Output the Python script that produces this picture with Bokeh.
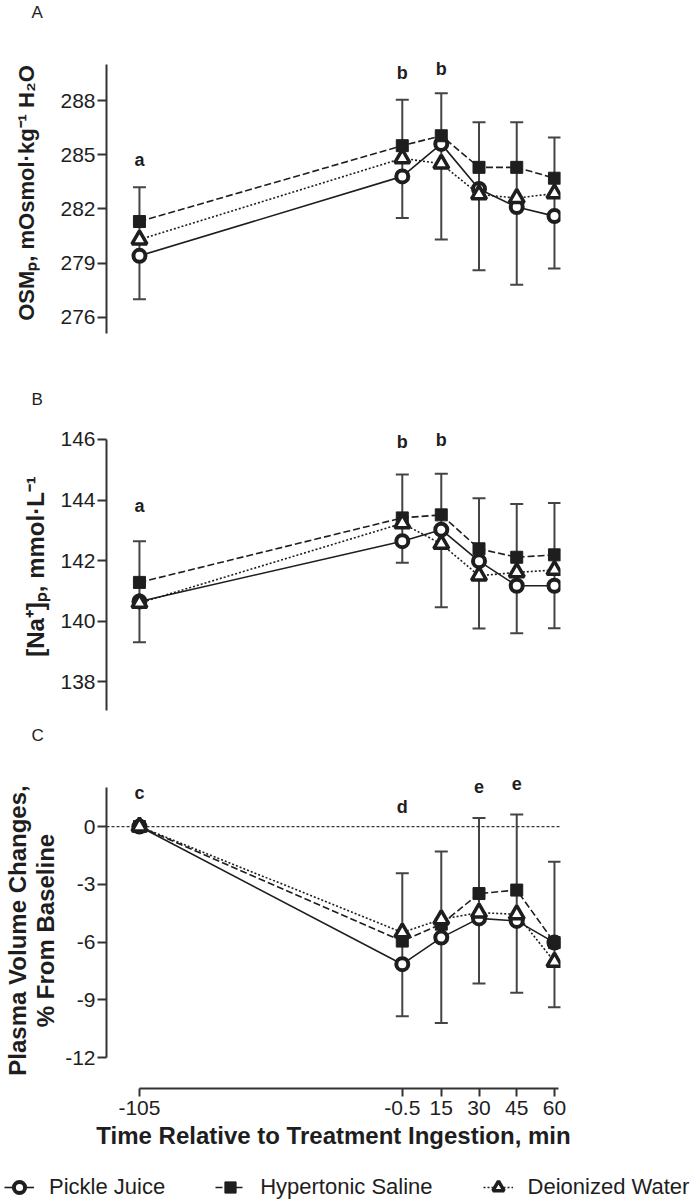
from bokeh.plotting import figure
from bokeh.models import (Range1d, ColumnDataSource, Whisker, TeeHead, LabelSet, Span,
                          FixedTicker, Legend, LegendItem, Title)
from bokeh.core.properties import value
from bokeh.layouts import column
from bokeh.embed import file_html
from bokeh.resources import INLINE

# ---------------- data ----------------
time_min = [-105, -0.5, 15, 30, 45, 60]
time_labels = ["-105", "-0.5", "15", "30", "45", "60"]
series_names = ["Pickle Juice", "Hypertonic Saline", "Deionized Water"]

# Panel A: plasma osmolality (mOsmol/kg H2O)
osm_pickle = [279.4, 283.8, 285.6, 283.1, 282.1, 281.6]
osm_saline = [281.3, 285.5, 286.05, 284.3, 284.3, 283.7]
osm_water = [280.3, 284.8, 284.5, 282.8, 282.6, 282.85]
osm_err_hi = [283.2, 288.05, 288.4, 286.8, 286.8, 285.95]
osm_err_lo = [277.0, 281.5, 280.3, 278.6, 277.8, 278.7]
osm_ticks = [276, 279, 282, 285, 288]
osm_letters = ["a", "b", "b"]
osm_letter_t = [-105, -0.5, 15]
osm_letter_y = [284.7, 289.55, 289.75]

# Panel B: plasma sodium (mmol/L)
na_pickle = [140.65, 142.64, 143.02, 141.98, 141.17, 141.17]
na_saline = [141.28, 143.41, 143.51, 142.39, 142.11, 142.19]
na_water = [140.6, 143.23, 142.55, 141.5, 141.61, 141.69]
na_err_hi = [142.64, 144.84, 144.87, 144.06, 143.87, 143.9]
na_err_lo = [139.3, 141.93, 140.46, 139.76, 139.6, 139.77]
na_ticks = [138, 140, 142, 144, 146]
na_letters = ["a", "b", "b"]
na_letter_t = [-105, -0.5, 15]
na_letter_y = [143.8, 145.9, 145.97]

# Panel C: plasma volume change (% from baseline)
pv_pickle = [0, -7.15, -5.77, -4.77, -4.9, -6.03]
pv_saline = [0, -5.95, -5.07, -3.48, -3.3, -6.03]
pv_water = [0, -5.5, -4.82, -4.47, -4.56, -7.03]
pv_err_t = [-0.5, 15, 30, 45, 60]
pv_err_hi = [-2.42, -1.29, 0.45, 0.63, -1.83]
pv_err_lo = [-9.86, -10.2, -8.16, -8.64, -9.39]
pv_ticks = [-12, -9, -6, -3, 0]
pv_letters = ["c", "d", "e", "e"]
pv_letter_t = [-105, -0.5, 30, 45]
pv_letter_y = [1.77, 1.0, 2.1, 2.26]

# ---------------- style ----------------
FONT = "Liberation Sans"
INK = "#1e1e1e"
AXC = "#333333"
ERRC = "#444444"
X_START, X_END = -118.1, 62.4
FRAME_W = 454
BORDER_L = 106
BORDER_R = 137
TOTAL_W = BORDER_L + FRAME_W + BORDER_R

styles = [
    dict(marker="circle", size=12, line_width=4, fill_color="white", dash="solid"),
    dict(marker="square", size=12, line_width=1, fill_color=INK, dash="7 3"),
    dict(marker="triangle", size=15, line_width=3.5, fill_color="white", dash="2 2"),
]


def panel_title(txt, standoff):
    return Title(text=txt, align="left", offset=-75, standoff=standoff,
                 vertical_align="bottom", text_font=FONT, text_font_size="17px",
                 text_font_style="normal", text_color=INK)


def make_panel(series, err_t, err_hi, err_lo, yr, ybounds, frame_h, b_top, b_bot, ticks,
               ylabel, lab_size, lab_standoff, letters, letter_t, letter_y,
               show_x=False, lab_lh=1.2):
    p = figure(frame_width=FRAME_W, frame_height=frame_h,
               x_range=Range1d(X_START, X_END), y_range=Range1d(*yr),
               toolbar_location=None, output_backend="svg",
               x_axis_location="below" if show_x else None,
               min_border_left=BORDER_L, min_border_right=BORDER_R,
               min_border_top=b_top, min_border_bottom=b_bot,
               outline_line_color=None, background_fill_color="white",
               border_fill_color="white")
    p.grid.visible = False

    # error bars
    esrc = ColumnDataSource(dict(t=err_t, hi=err_hi, lo=err_lo))
    w = Whisker(source=esrc, base="t", upper="hi", lower="lo", dimension="height",
                line_color=ERRC, line_width=2, level="underlay",
                upper_head=TeeHead(size=13, line_color=ERRC, line_width=2),
                lower_head=TeeHead(size=13, line_color=ERRC, line_width=2))
    p.add_layout(w)

    # lines
    for vals, st in zip(series, styles):
        p.line(time_min, vals, line_color=INK, line_width=1.6, line_dash=st["dash"])
    # markers
    for vals, st in zip(series, styles):
        p.scatter(time_min, vals, marker=st["marker"], size=st["size"],
                  line_color=INK, line_width=st["line_width"], fill_color=st["fill_color"])

    # significance letters
    lsrc = ColumnDataSource(dict(t=letter_t, y=letter_y, s=letters))
    p.add_layout(LabelSet(x="t", y="y", text="s", source=lsrc, text_align="center",
                          text_baseline="middle", text_font=value(FONT),
                          text_font_size=value("18px"), text_font_style="bold",
                          text_color=INK))

    ax = p.yaxis[0]
    ax.ticker = FixedTicker(ticks=ticks)
    ax.major_label_overrides = {t: str(t) for t in ticks}
    ax.bounds = ybounds
    ax.minor_tick_line_color = None
    ax.axis_line_color = AXC
    ax.axis_line_width = 2
    ax.major_tick_line_color = AXC
    ax.major_tick_line_width = 2
    ax.major_tick_out = 9
    ax.major_tick_in = 0
    ax.major_label_standoff = 2
    ax.major_label_text_font = FONT
    ax.major_label_text_font_size = "21px"
    ax.major_label_text_color = INK
    ax.axis_label = ylabel
    ax.axis_label_text_font = FONT
    ax.axis_label_text_font_size = lab_size
    ax.axis_label_text_font_style = "bold"
    ax.axis_label_text_color = INK
    ax.axis_label_standoff = lab_standoff
    ax.axis_label_text_line_height = lab_lh

    if show_x:
        xa = p.xaxis[0]
        xa.ticker = FixedTicker(ticks=time_min)
        xa.major_label_overrides = {t: s for t, s in zip(time_min, time_labels)}
        xa.bounds = (-105, 61.6)
        xa.minor_tick_line_color = None
        xa.axis_line_color = AXC
        xa.axis_line_width = 2
        xa.major_tick_line_color = AXC
        xa.major_tick_line_width = 2
        xa.major_tick_out = 8
        xa.major_tick_in = 0
        xa.major_label_standoff = 4
        xa.major_label_text_font = FONT
        xa.major_label_text_font_size = "21px"
        xa.major_label_text_color = INK
        xa.axis_label = "Time Relative to Treatment Ingestion, min"
        xa.axis_label_text_font = FONT
        xa.axis_label_text_font_size = "24px"
        xa.axis_label_text_font_style = "bold"
        xa.axis_label_text_color = INK
        xa.axis_label_standoff = 4
    return p


# top strip holding the "A" panel letter
top = figure(frame_width=FRAME_W, frame_height=1, x_range=Range1d(0, 1),
             y_range=Range1d(0, 1), toolbar_location=None, output_backend="svg",
             x_axis_location=None, y_axis_location=None, min_border_left=BORDER_L,
             min_border_right=BORDER_R, min_border_top=19, min_border_bottom=0,
             outline_line_color=None)
top.grid.visible = False
top.add_layout(panel_title("A", 0), "above")

pA = make_panel([osm_pickle, osm_saline, osm_water], time_min, osm_err_hi, osm_err_lo,
                (275.1, 290.66), (275.1, 290.0), 281, 30, 37, osm_ticks,
                "OSMₚ, mOsmol·kg⁻¹ H₂O", "22px", 18,
                osm_letters, osm_letter_t, osm_letter_y)

pB = make_panel([na_pickle, na_saline, na_water], time_min, na_err_hi, na_err_lo,
                (137.05, 146.56), (137.05, 146.0), 288, 52, 46, na_ticks,
                "[Na⁺]ₚ, mmol·L⁻¹", "24px", 8,
                na_letters, na_letter_t, na_letter_y)
pB.add_layout(panel_title("B", 27), "above")
pB.add_layout(panel_title("C", 26), "below")

pC = make_panel([pv_pickle, pv_saline, pv_water], pv_err_t, pv_err_hi, pv_err_lo,
                (-13.61, 2.81), (-12, 2.03), 316, 15, 73, pv_ticks,
                "Plasma Volume Changes,\n% From Baseline", "24px", 3,
                pv_letters, pv_letter_t, pv_letter_y,
                show_x=True, lab_lh=1.05)
pC.add_layout(Span(location=0, dimension="width", line_color=AXC, line_width=1.3,
                   line_dash="3 2", level="underlay"))

# legend strip
leg = figure(frame_width=TOTAL_W, frame_height=40,
             x_range=Range1d(0, 1), y_range=Range1d(0, 1),
             toolbar_location=None, output_backend="svg", x_axis_location=None,
             y_axis_location=None, min_border_left=0, min_border_right=0,
             min_border_top=0, min_border_bottom=0, outline_line_color=None)
leg.grid.visible = False
items = []
for name, st in zip(series_names, styles):
    lr = leg.line(x=[-10, -9], y=[-10, -10], line_color=INK, line_width=1.6,
                  line_dash=st["dash"])
    sr = leg.scatter(x=[-10], y=[-10], marker=st["marker"], size=st["size"],
                     line_color=INK, line_width=st["line_width"],
                     fill_color=st["fill_color"])
    items.append(LegendItem(label=name, renderers=[lr, sr]))
legend = Legend(items=items, orientation="horizontal", location=(4, 0),
                border_line_alpha=0, background_fill_alpha=0,
                label_text_font=FONT, label_text_font_size="22px", label_text_color=INK,
                glyph_width=30, glyph_height=28, label_height=28, label_standoff=15,
                spacing=50, padding=0, margin=0)
leg.add_layout(legend)

layout = column(top, pA, pB, pC, leg, spacing=0)
open("out.html", "w").write(file_html(layout, INLINE))
